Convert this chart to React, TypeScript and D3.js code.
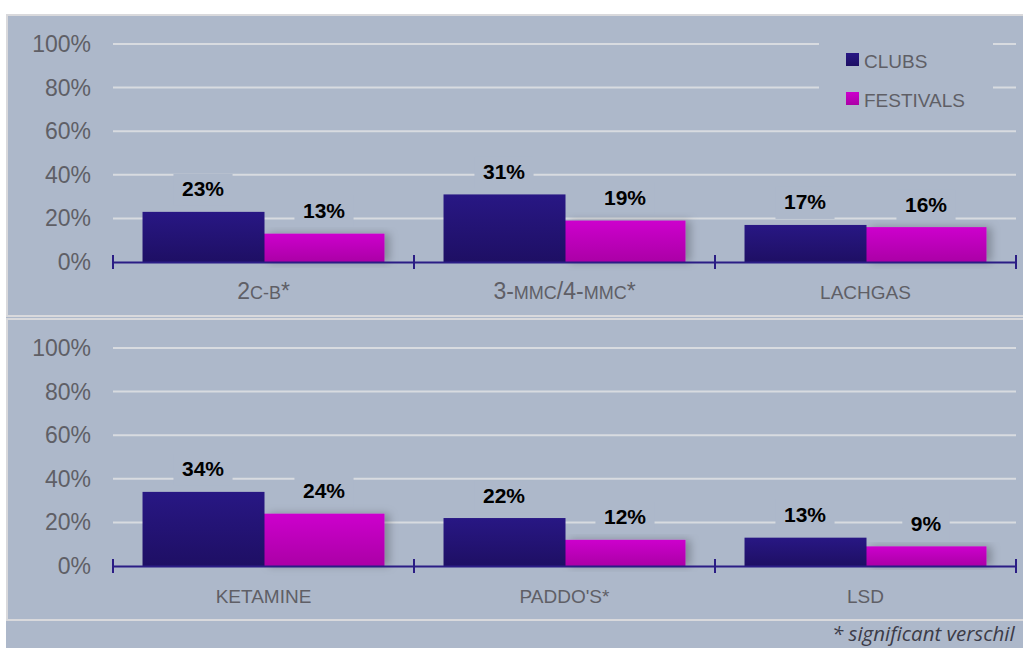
import React from "react";
import * as d3 from "d3";

const seriesNames = ["CLUBS", "FESTIVALS"];
const topCategories = ["2C-B*", "3-MMC/4-MMC*", "LACHGAS"];
const topClubs = [23, 31, 17];
const topFestivals = [13, 19, 16];
const bottomCategories = ["KETAMINE", "PADDO'S*", "LSD"];
const bottomClubs = [34, 22, 13];
const bottomFestivals = [24, 12, 9];
const yTicks = [0, 20, 40, 60, 80, 100];
// label parts: [text, smallcaps?]
const labelParts: Record<string, [string, boolean][]> = {
  "2C-B*": [["2", false], ["C-B", true], ["*", false]],
  "3-MMC/4-MMC*": [["3-", false], ["MMC", true], ["/4-", false], ["MMC", true], ["*", false]],
  LACHGAS: [["LACHGAS", false]],
  KETAMINE: [["KETAMINE", false]],
  "PADDO'S*": [["PADDO'S*", false]],
  LSD: [["LSD", false]],
};
const footnote = "* significant verschil";

const FONT = "'Liberation Sans', Arial, sans-serif";
const BG = "#adb8ca";
const GRID = "#d8dbe0";
const AXIS = "#2b1d85";

const X0 = 113;
const X1 = 1016;

function estWidth(s: string) {
  let w = 0;
  for (const c of s) w += c === "%" ? 18.7 : 11.7;
  return w;
}

function Panel({ categories, clubs, festivals, yZero, showLegend }: any) {
  const y = d3.scaleLinear().domain([0, 100]).range([yZero, yZero - 218]);
  const x = d3.scaleBand<string>().domain(categories).range([X0, X1]).paddingInner(0).paddingOuter(0);
  const xs = d3.scaleBand<string>().domain(seriesNames).range([0, x.bandwidth()]).paddingInner(0).paddingOuter(0.244);
  const vals = [clubs, festivals];
  const labels: any[] = [];
  categories.forEach((c: string, i: number) => {
    seriesNames.forEach((s, j) => {
      const v = vals[j][i];
      const cx = (x(c) as number) + (xs(s) as number) + xs.bandwidth() / 2;
      const cy = y(v) - 23;
      labels.push({ key: c + s, v, cx, cy });
    });
  });
  const ticksX = [...categories.map((c: string) => x(c) as number), X1];
  return (
    <g>
      {yTicks.map((t) => (
        <g key={t}>
          {t > 0 && <line x1={X0} x2={X1} y1={y(t)} y2={y(t)} stroke={GRID} strokeWidth={2} />}
          <text x={91} y={y(t) + 8} textAnchor="end" fontSize={23} fill="#5f5f66" fontFamily={FONT}>
            {t}%
          </text>
        </g>
      ))}
      {showLegend && <rect x={819} y={34} width={174} height={80} fill={BG} />}
      {labels.map((l) => {
        const w = estWidth(l.v + "%") + 17;
        return <rect key={"bg" + l.key} x={l.cx - w / 2} y={l.cy - 15} width={w} height={32} fill={BG} />;
      })}
      {categories.map((c: string, i: number) => (
        <g key={c}>
          <rect
            x={(x(c) as number) + (xs("FESTIVALS") as number)}
            y={y(festivals[i])}
            width={xs.bandwidth()}
            height={yZero - y(festivals[i])}
            fill="url(#gFest)"
            filter="url(#shadow)"
          />
          <rect
            x={(x(c) as number) + (xs("CLUBS") as number)}
            y={y(clubs[i])}
            width={xs.bandwidth() + 1}
            height={yZero - y(clubs[i])}
            fill="url(#gClub)"
          />
        </g>
      ))}
      <line x1={X0} x2={X1} y1={yZero + 0.5} y2={yZero + 0.5} stroke={AXIS} strokeWidth={2} />
      {ticksX.map((tx: number, i: number) => (
        <line key={i} x1={tx} x2={tx} y1={yZero - 7} y2={yZero + 7} stroke={AXIS} strokeWidth={2} />
      ))}
      {labels.map((l) => (
        <text key={"t" + l.key} x={l.cx} y={l.cy + 7.5} textAnchor="middle" fontSize={21} fontWeight="bold" fill="#000" fontFamily={FONT}>
          {l.v}%
        </text>
      ))}
      {categories.map((c: string) => {
        const parts = labelParts[c];
        const hasSC = parts.some((p) => p[1]);
        return (
          <text
            key={"c" + c}
            x={(x(c) as number) + x.bandwidth() / 2}
            y={yZero + 37}
            textAnchor="middle"
            fontSize={19}
            fill="#5f5f66"
            fontFamily={FONT}
          >
            {parts.map(([t, sc], k) => (
              <tspan key={k} fontSize={hasSC ? (sc ? 18 : 23) : 19}>
                {t}
              </tspan>
            ))}
          </text>
        );
      })}
      {showLegend &&
        seriesNames.map((s, j) => (
          <g key={s}>
            <rect x={846} y={53 + j * 39} width={13} height={13} fill={j === 0 ? "url(#gClub)" : "url(#gFest)"} />
            <text x={864} y={68 + j * 39} fontSize={19} fill="#5f5f66" fontFamily={FONT}>
              {s}
            </text>
          </g>
        ))}
    </g>
  );
}

export default function App() {
  return (
    <svg width={1023} height={648} style={{ position: "absolute", left: 0, top: 0, background: "#fff" }}>
      <defs>
        <linearGradient id="gClub" x1="0" y1="0" x2="0" y2="1">
          <stop offset="0" stopColor="#281784" />
          <stop offset="1" stopColor="#1e0f64" />
        </linearGradient>
        <linearGradient id="gFest" x1="0" y1="0" x2="0" y2="1">
          <stop offset="0" stopColor="#cd00cd" />
          <stop offset="1" stopColor="#ab00a6" />
        </linearGradient>
        <filter id="shadow" x="-20%" y="-20%" width="150%" height="140%">
          <feDropShadow dx={5} dy={0} stdDeviation={4} floodColor="#000" floodOpacity={0.25} />
        </filter>
      </defs>
      <rect x={6} y={14} width={1017} height={634} fill={BG} />
      <rect x={7} y={15} width={1020} height={301} fill="none" stroke="#d9d9dc" strokeWidth={2} />
      <rect x={7} y={319} width={1020} height={301} fill="none" stroke="#d9d9dc" strokeWidth={2} />
      <Panel categories={topCategories} clubs={topClubs} festivals={topFestivals} yZero={262} showLegend />
      <Panel categories={bottomCategories} clubs={bottomClubs} festivals={bottomFestivals} yZero={566} showLegend={false} />
      <text x={832} y={641} fontSize={20.5} fontStyle="italic" fill="#3c3c48" fontFamily="'Open Sans', sans-serif">
        {footnote}
      </text>
    </svg>
  );
}
